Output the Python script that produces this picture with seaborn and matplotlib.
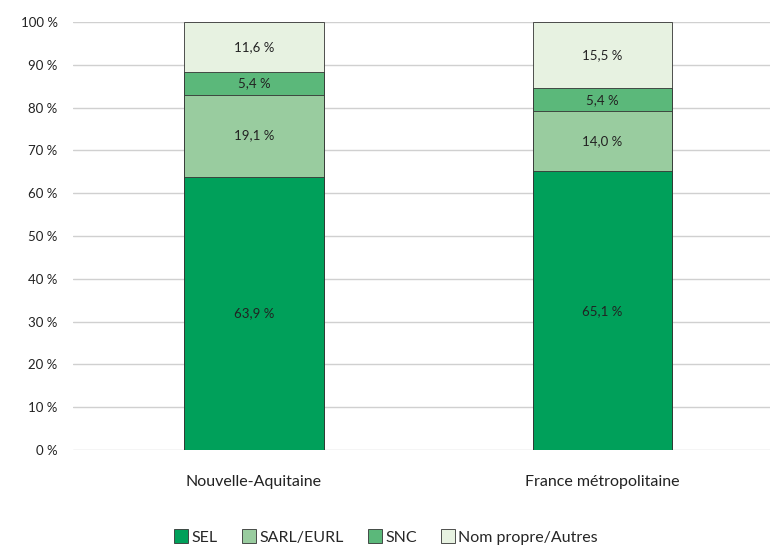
import pandas as pd
import matplotlib.pyplot as plt
import seaborn as sns
from matplotlib.patches import Patch

regions = ['Nouvelle-Aquitaine', 'France métropolitaine']
series = ['SEL', 'SARL/EURL', 'SNC', 'Nom propre/Autres']
sel = [63.9, 65.1]
sarl = [19.1, 14.0]
snc = [5.4, 5.4]
autres = [11.6, 15.5]
colors = ['#00A05A', '#99CC9F', '#5BB87A', '#E7F2E1']

df = pd.DataFrame({'region': regions, 'SEL': sel, 'SARL/EURL': sarl,
                   'SNC': snc, 'Nom propre/Autres': autres})
cum = df[series].cumsum(axis=1)

sns.set_style('white')
plt.rcParams['font.family'] = ['Lato', 'DejaVu Sans']

fig = plt.figure(figsize=(7.72, 5.46), dpi=100)
ax = fig.add_axes([73 / 772, 1 - 450 / 546, 697 / 772, 428 / 546])

# stacked bars drawn as overlapping cumulative totals, tallest first
for s, c in reversed(list(zip(series, colors))):
    d = pd.DataFrame({'region': regions, 'val': cum[s].values})
    sns.barplot(data=d, x='region', y='val', color=c, width=0.4,
                edgecolor='#333333', linewidth=0.6, saturation=1, ax=ax, zorder=3)

# segment labels
for i in range(len(regions)):
    bottom = 0
    for s in series:
        v = df.loc[i, s]
        txt = f'{v:.1f} %'.replace('.', ',')
        ax.text(i, bottom + v / 2, txt, ha='center', va='center',
                fontsize=9.5, color='#222222', zorder=5)
        bottom += v

ax.set_xlim(-0.519, 1.481)
ax.set_ylim(0, 100)
ax.set_yticks(range(0, 101, 10))
ax.set_yticklabels([f'{t} %' for t in range(0, 101, 10)])
ax.yaxis.grid(True, color='#d0d0d0', linewidth=1, zorder=0)
ax.set_axisbelow(True)
for sp in ax.spines.values():
    sp.set_visible(False)
ax.set_xlabel('')
ax.set_ylabel('')
ax.tick_params(axis='both', length=0, colors='#222222')
ax.tick_params(axis='y', pad=11, labelsize=9.5)
ax.tick_params(axis='x', pad=18, labelsize=11.5)

handles = [Patch(facecolor=c, edgecolor='#333333', linewidth=0.6, label=s)
           for s, c in zip(series, colors)]
fig.legend(handles=handles, loc='center', bbox_to_anchor=(0.5, 1 - 537 / 546),
           ncol=4, frameon=False, fontsize=11.5, handlelength=0.9, handleheight=0.9,
           handletextpad=0.2, columnspacing=1.5)

fig.savefig('out.png', dpi=100)
